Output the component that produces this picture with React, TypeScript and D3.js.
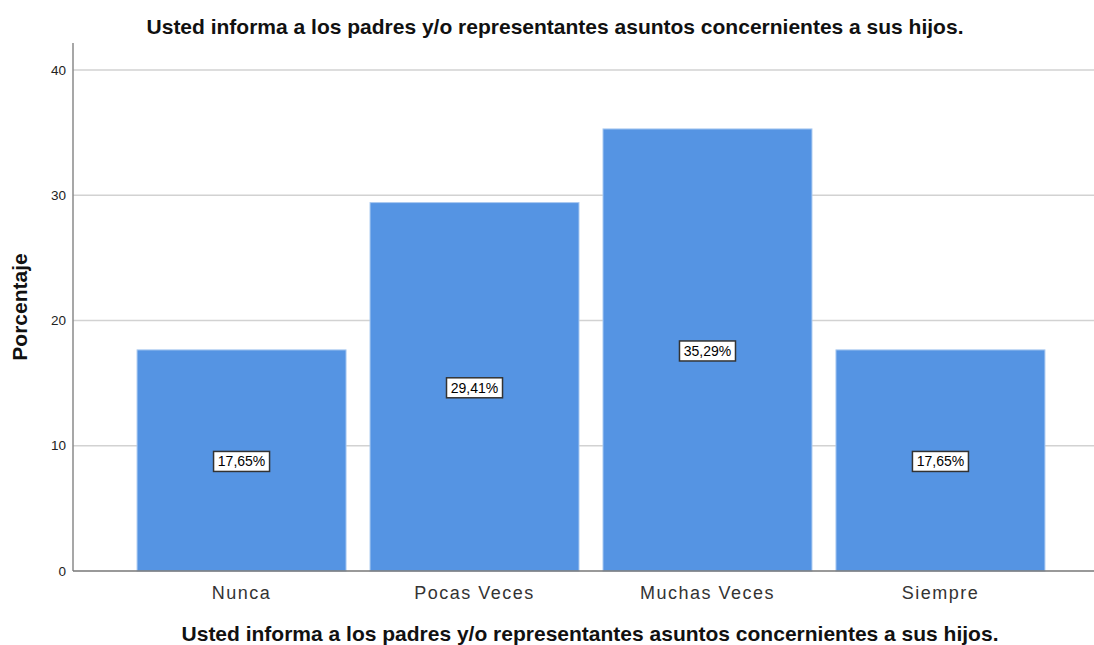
import React, { useEffect, useRef } from "react";
import * as d3 from "d3";

const categories = ["Nunca", "Pocas Veces", "Muchas Veces", "Siempre"];
const values = [17.65, 29.41, 35.29, 17.65];
const valueLabels = ["17,65%", "29,41%", "35,29%", "17,65%"];
const yTicks = [0, 10, 20, 30, 40];

const title = "Usted informa a los padres y/o representantes asuntos concernientes a sus hijos.";

const App = () => {
  const svgRef = useRef<SVGSVGElement>(null);

  useEffect(() => {
    const width = 1094;
    const height = 645;
    const left = 73;
    const bottom = 571;
    const top = 43;

    const svg = d3.select(svgRef.current);
    svg.selectAll("*").remove();
    svg.attr("width", width).attr("height", height);

    const font = "Liberation Sans, Arial, sans-serif";

    const x = d3
      .scaleBand<string>()
      .domain(categories)
      .range([left, 1109])
      .paddingInner(0.103)
      .paddingOuter(0.275);

    const y = d3.scaleLinear().domain([0, 42.15]).range([bottom, top]);

    // gridlines
    svg
      .append("g")
      .selectAll("line")
      .data(yTicks.filter((d) => d > 0))
      .enter()
      .append("line")
      .attr("x1", left)
      .attr("x2", width)
      .attr("y1", (d) => y(d))
      .attr("y2", (d) => y(d))
      .attr("stroke", "#d2d2d2")
      .attr("stroke-width", 1.5);

    // bars
    svg
      .append("g")
      .selectAll("rect")
      .data(values)
      .enter()
      .append("rect")
      .attr("x", (d, i) => x(categories[i])!)
      .attr("y", (d) => y(d))
      .attr("width", x.bandwidth())
      .attr("height", (d) => y(0) - y(d))
      .attr("fill", "#5594e3")
      .attr("stroke", "#a9c9f1")
      .attr("stroke-width", 1);

    // axes
    svg
      .append("line")
      .attr("x1", left)
      .attr("x2", left)
      .attr("y1", top)
      .attr("y2", bottom)
      .attr("stroke", "#8a8a8a")
      .attr("stroke-width", 1.5);
    svg
      .append("line")
      .attr("x1", left)
      .attr("x2", width)
      .attr("y1", bottom)
      .attr("y2", bottom)
      .attr("stroke", "#777")
      .attr("stroke-width", 1.5);

    // y tick labels
    svg
      .append("g")
      .selectAll("text")
      .data(yTicks)
      .enter()
      .append("text")
      .attr("x", 66)
      .attr("y", (d) => y(d))
      .attr("dy", "0.35em")
      .attr("text-anchor", "end")
      .attr("font-family", font)
      .attr("font-size", 13.5)
      .attr("fill", "#222")
      .text((d) => d);

    // category labels
    svg
      .append("g")
      .selectAll("text")
      .data(categories)
      .enter()
      .append("text")
      .attr("x", (d) => x(d)! + x.bandwidth() / 2)
      .attr("y", 599)
      .attr("text-anchor", "middle")
      .attr("font-family", font)
      .attr("font-size", 18)
      .attr("letter-spacing", 1.5)
      .attr("fill", "#333")
      .text((d) => d);

    // value labels
    const lab = svg
      .append("g")
      .selectAll("g")
      .data(values)
      .enter()
      .append("g")
      .attr(
        "transform",
        (d, i) => `translate(${x(categories[i])! + x.bandwidth() / 2},${(y(d) + y(0)) / 2 + 1})`
      );
    lab
      .append("rect")
      .attr("x", -28)
      .attr("y", -10)
      .attr("width", 56)
      .attr("height", 20)
      .attr("fill", "#fff")
      .attr("stroke", "#333")
      .attr("stroke-width", 1.5);
    lab
      .append("text")
      .attr("y", 0)
      .attr("dy", "0.35em")
      .attr("text-anchor", "middle")
      .attr("font-family", font)
      .attr("font-size", 14)
      .attr("fill", "#000")
      .text((d, i) => valueLabels[i]);

    // titles
    svg
      .append("text")
      .attr("x", 555)
      .attr("y", 34)
      .attr("text-anchor", "middle")
      .attr("font-family", font)
      .attr("font-size", 21)
      .attr("font-weight", "bold")
      .attr("fill", "#111")
      .text(title);
    svg
      .append("text")
      .attr("x", 590)
      .attr("y", 641)
      .attr("text-anchor", "middle")
      .attr("font-family", font)
      .attr("font-size", 21)
      .attr("font-weight", "bold")
      .attr("fill", "#111")
      .text(title);
    svg
      .append("text")
      .attr("transform", "translate(27,307) rotate(-90)")
      .attr("text-anchor", "middle")
      .attr("font-family", font)
      .attr("font-size", 21)
      .attr("font-weight", "bold")
      .attr("fill", "#111")
      .text("Porcentaje");
  }, []);

  return (
    <div style={{ position: "fixed", left: 0, top: 0, background: "#fff" }}>
      <svg ref={svgRef} style={{ display: "block" }}></svg>
    </div>
  );
};

export default App;
